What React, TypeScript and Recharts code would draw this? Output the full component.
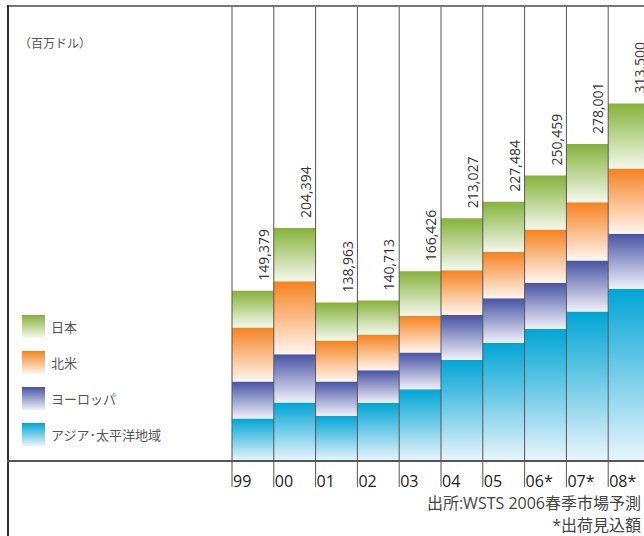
import { BarChart, Bar, XAxis, YAxis, LabelList } from 'recharts'

// 世界半導体市場 地域別出荷額（百万ドル）
const years = ['99', '00', '01', '02', '03', '04', '05', '06*', '07*', '08*']
const asiaPacific = [37200, 51265, 39531, 51000, 62844, 88706, 103668, 116059, 131101, 151100]
const europe = [32500, 42309, 30289, 28500, 32310, 39440, 39028, 40400, 44800, 48300]
const northAmerica = [47400, 64071, 35845, 31400, 32330, 39121, 40721, 46600, 51100, 57100]
const japan = [32279, 46749, 33298, 29813, 38942, 45760, 44067, 47400, 51000, 57000]
const totals = [149379, 204394, 138963, 140713, 166426, 213027, 227484, 250459, 278001, 313500]

const series = [
  { key: 'asia', name: 'アジア･太平洋地域', top: '#00a5d5', bottom: '#eaf5fb' },
  { key: 'europe', name: 'ヨーロッパ', top: '#4753a3', bottom: '#f1f1f9' },
  { key: 'na', name: '北米', top: '#f5821f', bottom: '#fff6ef' },
  { key: 'japan', name: '日本', top: '#86b23a', bottom: '#f4f8ec' },
]

const data = years.map((year, i) => ({
  year,
  asia: asiaPacific[i],
  europe: europe[i],
  na: northAmerica[i],
  japan: japan[i],
  total: totals[i],
}))

const CHART_W = 650
const CHART_H = 536
const MARGIN = { top: 62, right: 0, bottom: 49, left: 232 }
const BAND = (CHART_W - MARGIN.left - MARGIN.right) / years.length
const FONT = "'Open Sans', 'Noto Sans CJK JP', sans-serif"

function TotalLabel(props: any) {
  const { x, y, value } = props
  return (
    <text
      transform={`translate(${Number(x) + 37},${Number(y) - 10}) rotate(-90)`}
      textAnchor="start"
      fontSize={14}
      fontFamily={FONT}
      fill="#333"
    >
      {Number(value).toLocaleString('en-US')}
    </text>
  )
}

// 各年の区切り線
function Divider(props: any) {
  const x = Number(props.x)
  return <line x1={x} x2={x} y1={5} y2={487} stroke="#555" strokeWidth={1} />
}

function YearTick(props: any) {
  const { x, payload } = props
  return (
    <text x={Number(x) - BAND / 2 + 1} y={487} fontSize={16} fontFamily={FONT} fill="#222">
      {payload.value}
    </text>
  )
}

function Legend() {
  return (
    <div style={{ position: 'absolute', left: 22, top: 315 }}>
      {[...series].reverse().map((s) => (
        <div key={s.key} style={{ display: 'flex', alignItems: 'center', height: 23, marginBottom: 13 }}>
          <div
            style={{
              width: 23,
              height: 23,
              background: `linear-gradient(${s.top}, ${s.bottom})`,
            }}
          />
          <span style={{ marginLeft: 6, fontSize: 13, color: '#555', fontFamily: FONT }}>{s.name}</span>
        </div>
      ))}
    </div>
  )
}

export default function App() {
  return (
    <div
      style={{
        position: 'fixed',
        left: 0,
        top: 0,
        width: 644,
        height: 536,
        overflow: 'hidden',
        background: '#fff',
        fontFamily: FONT,
      }}
    >
      <div style={{ position: 'absolute', left: 0, top: 0 }}>
        <BarChart width={CHART_W} height={CHART_H} data={data} margin={MARGIN} barCategoryGap={0}>
          <defs>
            {series.map((s) => (
              <linearGradient key={s.key} id={`grad-${s.key}`} x1="0" y1="0" x2="0" y2="1">
                <stop offset="0%" stopColor={s.top} />
                <stop offset="100%" stopColor={s.bottom} />
              </linearGradient>
            ))}
          </defs>
          <XAxis dataKey="year" height={26} axisLine={false} tickLine={false} tick={<YearTick />} interval={0} />
          <YAxis hide domain={[0, 350000]} />
          {series.map((s) => (
            <Bar
              key={s.key}
              dataKey={s.key}
              stackId="region"
              fill={`url(#grad-${s.key})`}
              isAnimationActive={false}
            >
              {s.key === 'asia' && <LabelList dataKey="asia" content={<Divider />} />}
              {s.key === 'japan' && <LabelList dataKey="total" content={<TotalLabel />} />}
            </Bar>
          ))}
        </BarChart>
      </div>

      {/* 枠線 */}
      <div style={{ position: 'absolute', left: 7, top: 5, width: 637, height: 1.5, background: '#777' }} />
      <div style={{ position: 'absolute', left: 7, top: 5, width: 2, height: 531, background: '#333' }} />
      <div style={{ position: 'absolute', left: 7, top: 460, width: 637, height: 1.5, background: '#555' }} />

      <div style={{ position: 'absolute', left: 19, top: 34, fontSize: 12, color: '#555' }}>（百万ドル）</div>
      <Legend />

      <div style={{ position: 'absolute', right: 3, top: 496, fontSize: 16, color: '#444', lineHeight: '15px' }}>
        出所:WSTS 2006春季市場予測
      </div>
      <div style={{ position: 'absolute', right: 3, top: 518, fontSize: 16, color: '#444', lineHeight: '15px' }}>
        *出荷見込額
      </div>
    </div>
  )
}
